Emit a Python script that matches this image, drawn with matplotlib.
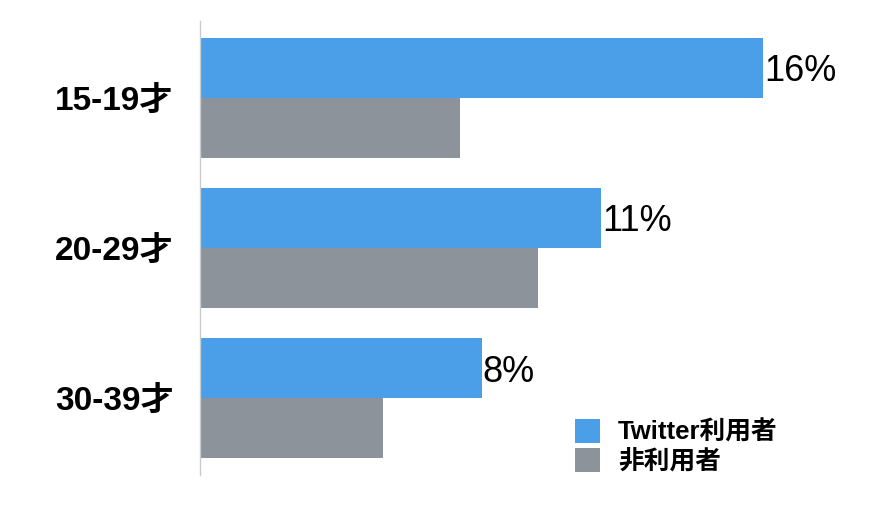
import numpy as np
import matplotlib.pyplot as plt

# values
categories = ["15-19才", "20-29才", "30-39才"]
twitter_users = [16.0, 11.4, 8.0]
non_users = [7.4, 9.6, 5.2]
value_labels = ["16%", "11%", "8%"]
series_names = ["Twitter利用者", "非利用者"]

blue = "#4a9fe8"
gray = "#8c939b"
fonts = ["Liberation Sans", "Noto Sans CJK JP"]

W, H = 894, 514
fig = plt.figure(figsize=(W / 100, H / 100), dpi=100)
ax = fig.add_axes([200 / W, 39 / H, 680 / W, 454 / H])

y = np.arange(len(categories))
h = 0.4
b1 = ax.barh(y - h / 2, twitter_users, height=h, color=blue, label=series_names[0])
b2 = ax.barh(y + h / 2, non_users, height=h, color=gray, label=series_names[1])

for rect, txt in zip(b1, value_labels):
    ax.text(rect.get_width() + 0.03, rect.get_y() + rect.get_height() / 2, txt,
            va="center_baseline", ha="left", fontsize=26, family="Liberation Sans", color="black")

ax.set_xlim(0, 680 / 35.2)
ax.set_ylim(len(categories) - 0.49, -0.51)
ax.set_yticks(y)
ax.set_yticklabels(categories, family=fonts, fontweight="bold", fontsize=24)
ax.tick_params(axis="y", length=0, pad=19)
ax.set_xticks([])
for s in ["top", "right", "bottom"]:
    ax.spines[s].set_visible(False)
ax.spines["left"].set_color("#c8ccd0")
ax.spines["left"].set_linewidth(1)

leg = fig.legend(loc="upper left", bbox_to_anchor=(575 / W, 1 - 419 / H),
                 frameon=False, borderpad=0, borderaxespad=0,
                 handlelength=0.97, handleheight=1.05, handletextpad=0.7,
                 labelspacing=0.12, prop={"family": fonts, "weight": "bold", "size": 18.5})

fig.savefig("out.png", dpi=100)
